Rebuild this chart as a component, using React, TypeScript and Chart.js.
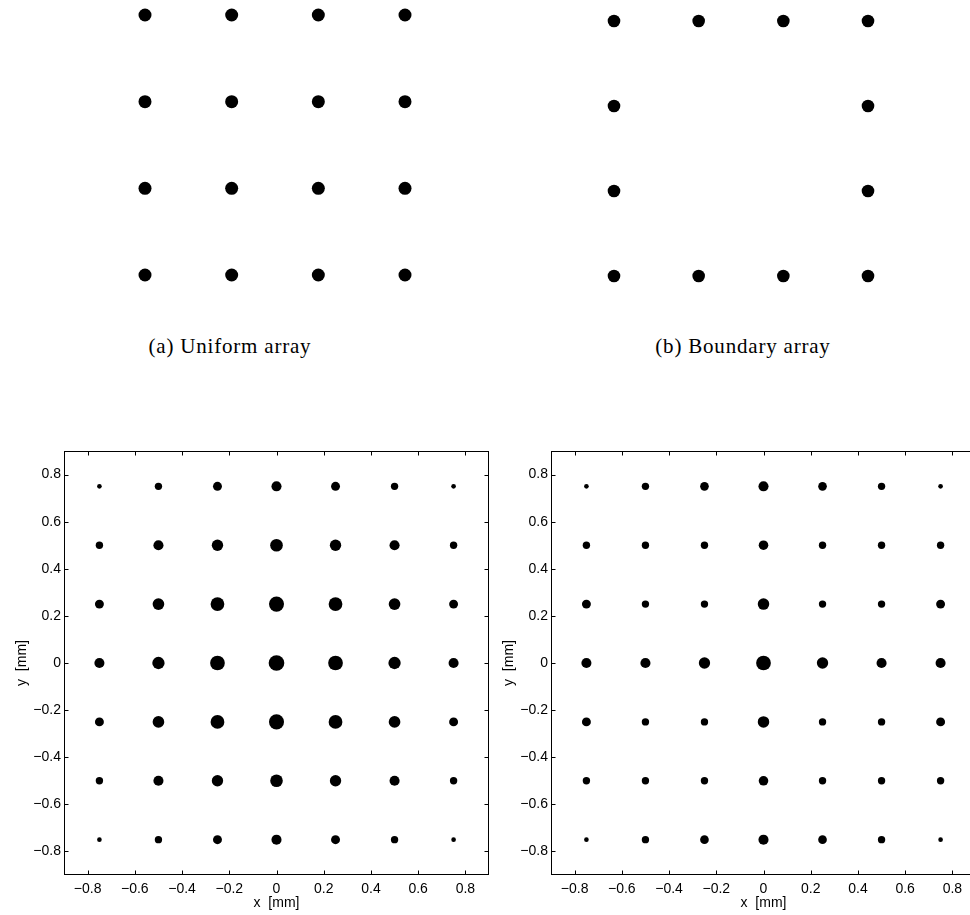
import React, { useEffect, useRef } from "react";
import { Chart, registerables } from "chart.js";

Chart.register(...registerables);

// ---------- data ----------
// (a) uniform 4x4 array positions
const UNIFORM_POS = [-0.75, -0.25, 0.25, 0.75];
// (b) boundary array element positions
const BOUNDARY_X = [-0.75, -0.25, 0.25, 0.75, -0.75, 0.75, -0.75, 0.75, -0.75, -0.25, 0.25, 0.75];
const BOUNDARY_Y = [0.75, 0.75, 0.75, 0.75, 0.25, 0.25, -0.25, -0.25, -0.75, -0.75, -0.75, -0.75];

// 7x7 grids (x columns, y rows from top to bottom)
const GRID_X = [-0.75, -0.5, -0.25, 0, 0.25, 0.5, 0.75];
const GRID_Y = [0.75, 0.5, 0.25, 0, -0.25, -0.5, -0.75];
const AXIS_TICKS = [-0.8, -0.6, -0.4, -0.2, 0, 0.2, 0.4, 0.6, 0.8];

// relative element weights (marker size), lower-left panel
const WEIGHTS_LEFT = [
  [0.29, 0.46, 0.56, 0.63, 0.56, 0.46, 0.29],
  [0.46, 0.63, 0.71, 0.79, 0.71, 0.63, 0.46],
  [0.56, 0.73, 0.86, 0.94, 0.86, 0.73, 0.56],
  [0.63, 0.77, 0.92, 0.98, 0.92, 0.77, 0.63],
  [0.56, 0.73, 0.86, 0.94, 0.86, 0.73, 0.56],
  [0.46, 0.63, 0.71, 0.79, 0.71, 0.63, 0.46],
  [0.29, 0.46, 0.56, 0.63, 0.56, 0.46, 0.29],
];
// relative element weights (marker size), lower-right panel
const WEIGHTS_RIGHT = [
  [0.29, 0.46, 0.54, 0.63, 0.54, 0.46, 0.29],
  [0.46, 0.46, 0.46, 0.60, 0.46, 0.46, 0.46],
  [0.56, 0.46, 0.46, 0.72, 0.46, 0.46, 0.56],
  [0.63, 0.63, 0.71, 0.92, 0.71, 0.63, 0.63],
  [0.56, 0.46, 0.46, 0.72, 0.46, 0.46, 0.56],
  [0.46, 0.46, 0.46, 0.60, 0.46, 0.46, 0.46],
  [0.29, 0.46, 0.54, 0.63, 0.54, 0.46, 0.29],
];

const CAPTION_A = "(a) Uniform array";
const CAPTION_B = "(b) Boundary array";
const X_TITLE = "x  [mm]";
const Y_TITLE = "y  [mm]";

// ---------- styles ----------
const SANS = "'Liberation Sans', Arial, Helvetica, sans-serif";
const SERIF = "'Liberation Serif', 'Times New Roman', serif";
const MAX_RADIUS = 8;
const TICK_LEN = 4;

const fmt = (v: number) => {
  const r = Math.round(v * 10) / 10;
  if (r === 0) return "0";
  return (r < 0 ? "\u2212" : "") + Math.abs(r).toString();
};

const framePlugin = {
  id: "frameTicks",
  afterDatasetsDraw(chart: any) {
    const { ctx, chartArea: a, scales } = chart;
    ctx.save();
    ctx.strokeStyle = "#000";
    ctx.lineWidth = 1;
    const L = Math.round(a.left) + 0.5;
    const R = Math.round(a.right) - 0.5;
    const T = Math.round(a.top) + 0.5;
    const B = Math.round(a.bottom) - 0.5;
    ctx.strokeRect(L, T, R - L, B - T);
    ctx.beginPath();
    for (const t of scales.x.ticks) {
      const p = Math.round(scales.x.getPixelForValue(t.value)) + 0.5;
      ctx.moveTo(p, B);
      ctx.lineTo(p, B - TICK_LEN);
      ctx.moveTo(p, T);
      ctx.lineTo(p, T + TICK_LEN);
    }
    for (const t of scales.y.ticks) {
      const p = Math.round(scales.y.getPixelForValue(t.value)) + 0.5;
      ctx.moveTo(L, p);
      ctx.lineTo(L + TICK_LEN, p);
      ctx.moveTo(R, p);
      ctx.lineTo(R - TICK_LEN, p);
    }
    ctx.stroke();
    ctx.restore();
  },
};

function topConfig(xs: number[], ys: number[], radius: number, pad: any) {
  return {
    type: "scatter",
    data: {
      datasets: [
        {
          data: xs.map((x, i) => ({ x, y: ys[i] })),
          pointRadius: radius,
          pointBackgroundColor: "#000",
          pointBorderWidth: 0,
          pointBorderColor: "#000",
          clip: false,
        },
      ],
    },
    options: {
      animation: false,
      responsive: false,
      devicePixelRatio: 1,
      events: [],
      layout: { padding: pad, autoPadding: false },
      plugins: { legend: { display: false }, tooltip: { enabled: false } },
      scales: {
        x: { type: "linear", min: -0.75, max: 0.75, display: false },
        y: { type: "linear", min: -0.75, max: 0.75, display: false },
      },
    },
  };
}

function bottomConfig(weights: number[][]) {
  const pts: any[] = [];
  weights.forEach((row, i) =>
    row.forEach((w, j) => pts.push({ x: GRID_X[j], y: GRID_Y[i], w }))
  );
  const tickFont = { family: SANS, size: 14 };
  const setTicks = (scale: any) => {
    scale.ticks = AXIS_TICKS.map((v) => ({ value: v }));
  };
  return {
    type: "scatter",
    data: {
      datasets: [
        {
          data: pts,
          pointRadius: (c: any) => (c.raw ? c.raw.w * MAX_RADIUS : 0),
          pointBackgroundColor: "#000",
          pointBorderWidth: 0,
          pointBorderColor: "#000",
          clip: false,
        },
      ],
    },
    options: {
      animation: false,
      responsive: false,
      devicePixelRatio: 1,
      events: [],
      layout: { padding: { top: 11, right: 1, left: 0, bottom: 0 }, autoPadding: false },
      plugins: { legend: { display: false }, tooltip: { enabled: false } },
      scales: {
        x: {
          type: "linear",
          min: -0.9,
          max: 0.9,
          grid: { display: false, drawTicks: false },
          border: { display: false },
          afterBuildTicks: setTicks,
          afterFit: (s: any) => {
            s.height = 40;
            s.paddingLeft = 0;
            s.paddingRight = 0;
          },
          ticks: {
            font: tickFont,
            color: "#000",
            padding: 6,
            maxRotation: 0,
            autoSkip: false,
            callback: (v: any) => fmt(Number(v)),
          },
          title: {
            display: true,
            text: X_TITLE,
            font: tickFont,
            color: "#000",
            padding: { top: 0, bottom: 3 },
          },
        },
        y: {
          type: "linear",
          min: -0.9,
          max: 0.9,
          grid: { display: false, drawTicks: false },
          border: { display: false },
          afterBuildTicks: setTicks,
          afterFit: (s: any) => {
            s.width = 64;
            s.paddingTop = 0;
            s.paddingBottom = 0;
          },
          ticks: {
            font: tickFont,
            color: "#000",
            padding: 3,
            autoSkip: false,
            callback: (v: any) => fmt(Number(v)),
          },
          title: {
            display: true,
            text: Y_TITLE,
            font: tickFont,
            color: "#000",
            padding: { top: 14, bottom: 0 },
          },
        },
      },
    },
    plugins: [framePlugin],
  };
}

function ChartBox(props: { left: number; top: number; width: number; height: number; make: () => any }) {
  const ref = useRef<HTMLCanvasElement>(null);
  useEffect(() => {
    const chart = new Chart(ref.current as HTMLCanvasElement, props.make());
    return () => chart.destroy();
  }, []);
  return (
    <canvas
      ref={ref}
      width={props.width}
      height={props.height}
      style={{ position: "absolute", left: props.left, top: props.top, width: props.width, height: props.height }}
    />
  );
}

const captionStyle = (center: number): React.CSSProperties => ({
  position: "absolute",
  left: center - 150,
  width: 300,
  top: 336,
  textAlign: "center",
  fontFamily: SERIF,
  fontSize: 21,
  lineHeight: "21px",
  letterSpacing: "0.8px",
  color: "#000",
  whiteSpace: "pre",
});

export default function App() {
  const uniX: number[] = [];
  const uniY: number[] = [];
  UNIFORM_POS.forEach((y) => UNIFORM_POS.forEach((x) => { uniX.push(x); uniY.push(-y); }));
  return (
    <div
      style={{
        position: "absolute",
        left: 0,
        top: 0,
        width: 970,
        height: 915,
        overflow: "hidden",
        background: "#fff",
      }}
    >
      <ChartBox left={125} top={0} width={300} height={300}
        make={() => topConfig(uniX, uniY, 6.5, { left: 20, right: 20, top: 15, bottom: 25 })} />
      <ChartBox left={594} top={0} width={294} height={300}
        make={() => topConfig(BOUNDARY_X, BOUNDARY_Y, 6.3, { left: 20, right: 20, top: 21, bottom: 24 })} />
      <div style={captionStyle(230)}>{CAPTION_A}</div>
      <div style={captionStyle(743)}>{CAPTION_B}</div>
      <ChartBox left={0} top={440} width={490} height={475} make={() => bottomConfig(WEIGHTS_LEFT)} />
      <ChartBox left={487} top={440} width={490} height={475} make={() => bottomConfig(WEIGHTS_RIGHT)} />
    </div>
  );
}
